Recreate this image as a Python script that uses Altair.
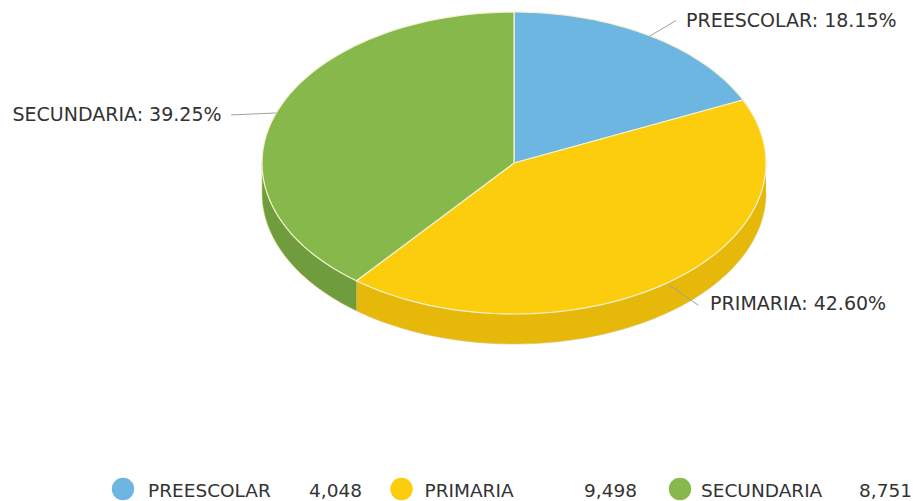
import altair as alt
import numpy as np
import pandas as pd

# ---- data ----
categories = ["PREESCOLAR", "PRIMARIA", "SECUNDARIA"]
values = [4048, 9498, 8751]
top_colors = ["#6db6e2", "#fbcd0c", "#86b84c"]
side_colors = ["#5d9fc8", "#e6b80a", "#6f9d3d"]

# ---- layout constants (pixels inside plot area) ----
W, H = 905, 493
CX, CY = 506, 155
RX, RY = 252, 151
DEPTH = 30 / RY
N = 72
FONT = "DejaVu Sans"
TXT = "#333333"

total = sum(values)
ends = np.cumsum(values)
starts = ends - np.array(values)
slices = pd.DataFrame({
    "category": categories, "value": values,
    "start": starts, "end": ends, "total": total,
    "idx": list(range(len(categories))),
})

wedge = slices.merge(pd.DataFrame({"k": np.arange(-1, N + 2)}), how="cross")
sides = (slices.merge(pd.DataFrame({"k": np.arange(0, N + 1)}), how="cross")
         .merge(pd.DataFrame({"part": [0, 1]}), how="cross"))
leader = slices.merge(pd.DataFrame({"p": [0, 1]}), how="cross")

xs = alt.Scale(domain=[-CX / RX, (W - CX) / RX], nice=False, zero=False)
ys = alt.Scale(domain=[-(H - CY) / RY, CY / RY], nice=False, zero=False)


def X(f):
    return alt.X(f"{f}:Q", scale=xs, axis=None)


def Y(f):
    return alt.Y(f"{f}:Q", scale=ys, axis=None)


top_color = alt.Color("category:N", scale=alt.Scale(domain=categories, range=top_colors), legend=None)
side_color = alt.Color("category:N", scale=alt.Scale(domain=categories, range=side_colors), legend=None)

top = alt.Chart(wedge).transform_calculate(
    kk=f"clamp(datum.k, 0, {N})",
    theta=f"2*PI*(datum.start + (datum.end - datum.start)*datum.kk/{N})/datum.total",
    px=f"(datum.k < 0 || datum.k > {N}) ? 0 : sin(datum.theta)",
    py=f"(datum.k < 0 || datum.k > {N}) ? 0 : cos(datum.theta)",
).mark_line(filled=True, stroke="#f4f2d2", strokeWidth=1.2, strokeJoin="round").encode(
    x=X("px"), y=Y("py"), order="k:Q", color=top_color,
)

side = alt.Chart(sides).transform_calculate(
    a0="max(2*PI*datum.start/datum.total, PI/2)",
    a1="min(2*PI*datum.end/datum.total, 3*PI/2)",
).transform_filter("datum.a1 > datum.a0").transform_calculate(
    theta=f"datum.a0 + (datum.a1 - datum.a0)*datum.k/{N}",
    px="sin(datum.theta)",
    py=f"cos(datum.theta) - datum.part*{DEPTH}",
    ord=f"datum.part == 0 ? datum.k : {2 * N + 1} - datum.k",
).mark_line(filled=True, stroke="#d9c27a", strokeWidth=0.6).encode(
    x=X("px"), y=Y("py"), order="ord:Q", color=side_color,
)

LEFT_SHIFT = 8 / RY
lead = alt.Chart(leader).transform_calculate(
    mid="PI*(datum.start + datum.end)/datum.total",
    s="sin(datum.mid)",
    c="cos(datum.mid)",
    px="datum.p == 0 ? datum.s : datum.s*1.19",
    py=(f"datum.p == 0 ? datum.c - (datum.c < 0 ? {DEPTH}*0.1 : 0) : "
        f"datum.c*1.12 - (datum.c < 0 ? {DEPTH}*0.3 : 0) - (datum.s < 0 ? {LEFT_SHIFT} : 0)"),
).mark_line(color="#a0a0a0", strokeWidth=1).encode(
    x=X("px"), y=Y("py"), detail="category:N", order="p:Q",
)

lab_base = alt.Chart(slices).transform_calculate(
    mid="PI*(datum.start + datum.end)/datum.total",
    s="sin(datum.mid)",
    c="cos(datum.mid)",
    px="datum.s > 0 ? datum.s*1.265 : datum.s*1.23",
    py=f"datum.c*1.12 - (datum.c < 0 ? {DEPTH}*0.25 : 0) - (datum.s < 0 ? {LEFT_SHIFT} : 0)",
    label="datum.category + ': ' + format(100*datum.value/datum.total, '.2f') + '%'",
)
lab_r = lab_base.transform_filter("datum.s > 0").mark_text(
    align="left", baseline="middle", font=FONT, fontSize=19, color=TXT
).encode(x=X("px"), y=Y("py"), text="label:N")
lab_l = lab_base.transform_filter("datum.s < 0").mark_text(
    align="right", baseline="middle", font=FONT, fontSize=19, color=TXT
).encode(x=X("px"), y=Y("py"), text="label:N")

leg_base = alt.Chart(slices).transform_calculate(
    cx=f"({123 - 8} + datum.idx*278.5 - {CX})/{RX}",
    nx=f"({148 - 8} + datum.idx*276.5 - {CX})/{RX}",
    vx=f"({362 - 8} + datum.idx*275 - {CX})/{RX}",
    cy=f"({CY} - {489 - 8})/{RY}",
    ty=f"({CY} - {491 - 8})/{RY}",
    vtext="format(datum.value, ',')",
)
leg_c = leg_base.mark_circle(size=500, opacity=1).encode(x=X("cx"), y=Y("cy"), color=top_color)
leg_n = leg_base.mark_text(align="left", baseline="middle", font=FONT, fontSize=18.5, color=TXT).encode(
    x=X("nx"), y=Y("ty"), text="category:N")
leg_v = leg_base.mark_text(align="right", baseline="middle", font=FONT, fontSize=18.5, color=TXT).encode(
    x=X("vx"), y=Y("ty"), text="vtext:N")

chart = alt.layer(side, top, lead, lab_r, lab_l, leg_c, leg_n, leg_v).resolve_scale(
    color="independent"
).properties(
    width=W, height=H, padding=0, autosize=alt.AutoSizeParams(type="none"), background="white"
).configure_view(stroke=None)

chart.save("out.html", embed_options={"renderer": "svg", "actions": False})
